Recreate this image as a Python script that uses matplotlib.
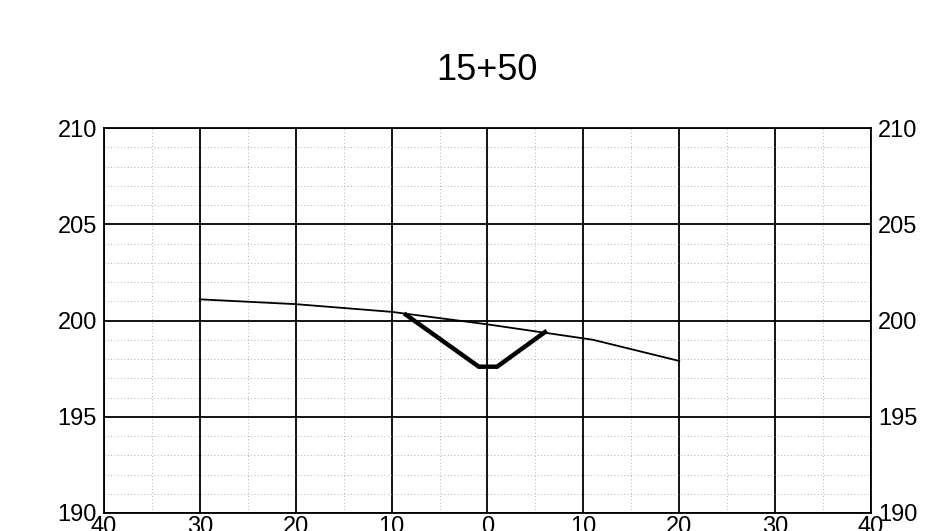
import numpy as np
import matplotlib.pyplot as plt
from matplotlib.ticker import MultipleLocator, FuncFormatter

plt.rcParams['font.family'] = ['Liberation Sans', 'DejaVu Sans']

# section title and existing ground profile
station = "15+50"
ground_x = [-30, -20, -10, 0, 11, 20]
ground_y = [201.1, 200.85, 200.45, 199.8, 199.0, 197.9]

# proposed ditch template
ditch_x = [-8.5, -0.9, 1.0, 6.0]
ditch_y = [200.3, 197.6, 197.6, 199.4]

fig = plt.figure(figsize=(9.34, 5.31), dpi=100)
ax = fig.add_axes([0.1113, 0.0339, 0.8212, 0.7250])

ax.plot(ground_x, ground_y, color='black', lw=1.3, zorder=3)
ax.plot(ditch_x, ditch_y, color='black', lw=3.2, solid_joinstyle='miter', zorder=4)

ax.set_xlim(-40, 40)
ax.set_ylim(190, 210)
ax.xaxis.set_major_locator(MultipleLocator(10))
ax.xaxis.set_minor_locator(MultipleLocator(5))
ax.yaxis.set_major_locator(MultipleLocator(5))
ax.yaxis.set_minor_locator(MultipleLocator(1))
ax.xaxis.set_major_formatter(FuncFormatter(lambda v, p: f"{abs(v):.0f}"))

ax.grid(which='major', color='black', lw=1.3)
ax.grid(which='minor', color='#999999', lw=0.6, linestyle=(0, (1, 3)))
ax.tick_params(which='both', length=0, labelsize=17)
ax.tick_params(axis='y', labelright=True, right=False, pad=5)
ax.tick_params(axis='x', pad=2)
for s in ax.spines.values():
    s.set_linewidth(1.3)

fig.text(0.5213, 0.868, station, ha='center', va='center', fontsize=26)

fig.savefig('out.png', dpi=100)
